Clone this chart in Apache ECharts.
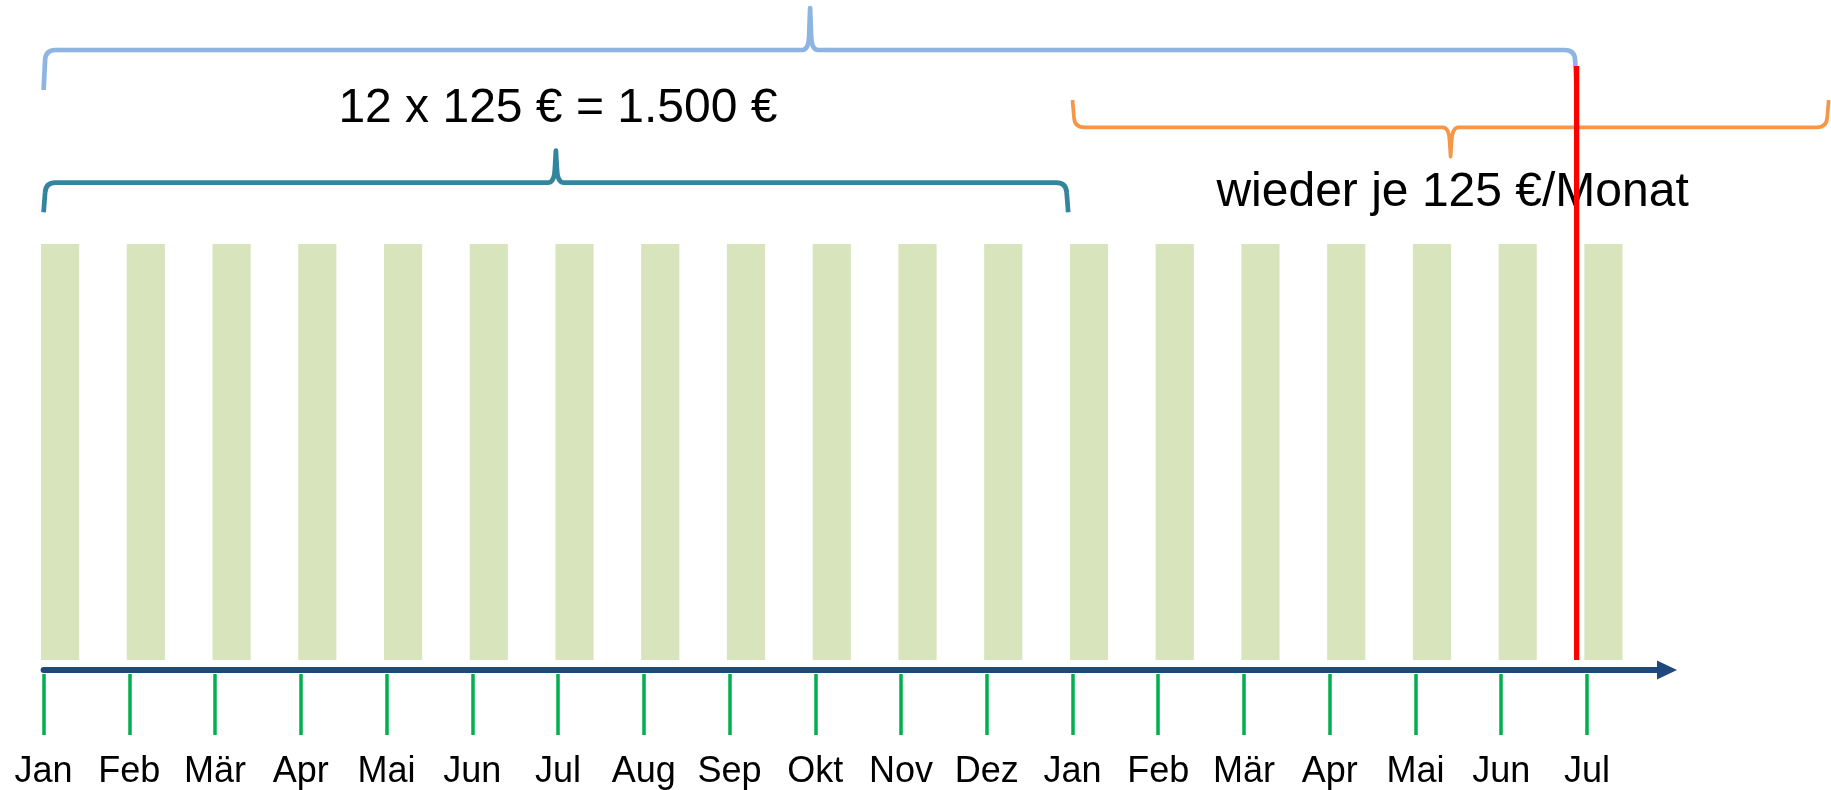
<!DOCTYPE html>
<html>
<head>
<meta charset="utf-8">
<title>Beiträge</title>
<script src="https://cdn.jsdelivr.net/npm/echarts@6.0.0/dist/echarts.min.js"></script>
<style>
    html, body { margin: 0; padding: 0; background: #fff; }
    #main { width: 1831px; height: 790px; }
</style>
</head>
<body>
<div id="main"></div>
<script>
    // Monate auf der Zeitachse
    const monate = ['Jan', 'Feb', 'Mär', 'Apr', 'Mai', 'Jun', 'Jul', 'Aug', 'Sep', 'Okt', 'Nov', 'Dez',
        'Jan', 'Feb', 'Mär', 'Apr', 'Mai', 'Jun', 'Jul'];
    // Beitrag je Monat in €
    const beitraege = [125, 125, 125, 125, 125, 125, 125, 125, 125, 125, 125, 125,
        125, 125, 125, 125, 125, 125, 125];
    // Stichtag (rote Linie), in Monaten ab Start
    const stichtag = 17.88;
    // Klammern: von / bis (in Monaten)
    const klammerVon = [0, 0, 12];
    const klammerBis = [17.88, 11.95, 20.82];
    const klammerTexte = ['', '12 x 125 € = 1.500 €', 'wieder je 125 €/Monat'];

    const schrift = '"Liberation Sans", Arial, sans-serif';
    const xMax = 18.934;

    // aussehen der drei klammern
    const klammerStil = [
        {y: 50, ende: 40, spitze: 42, dir: -1, color: '#8DB4E2', width: 4.7, textY: 0},
        {y: 182.7, ende: 29.5, spitze: 32, dir: -1, color: '#31859C', width: 4.7, textY: 108.5},
        {y: 127.3, ende: 27.3, spitze: 29.4, dir: 1, color: '#F79646', width: 3.7, textY: 193}
    ];

    function klammerPfad(x0, x1, hy, ende, spitze, dir) {
        const e = -dir;
        const xm = (x0 + x1) / 2;
        const r = 10;
        return 'M' + x0 + ',' + (hy + e * ende) +
            ' L' + (x0 + 1.5) + ',' + (hy + e * r) +
            ' Q' + (x0 + 2) + ',' + hy + ' ' + (x0 + r + 2) + ',' + hy +
            ' L' + (xm - 8) + ',' + hy +
            ' Q' + (xm - 1.5) + ',' + hy + ' ' + (xm - 1) + ',' + (hy + dir * 14) +
            ' L' + xm + ',' + (hy + dir * spitze) +
            ' L' + (xm + 1) + ',' + (hy + dir * 14) +
            ' Q' + (xm + 1.5) + ',' + hy + ' ' + (xm + 8) + ',' + hy +
            ' L' + (x1 - r - 2) + ',' + hy +
            ' Q' + (x1 - 2) + ',' + hy + ' ' + (x1 - 1.5) + ',' + (hy + e * r) +
            ' L' + x1 + ',' + (hy + e * ende);
    }

    const chart = echarts.init(document.getElementById('main'));
    const option = {
        backgroundColor: '#fff',
        animation: false,
        grid: {left: 43.6, right: 164, top: 244, bottom: 130},
        xAxis: [
            {
                type: 'value',
                min: 0,
                max: xMax,
                position: 'bottom',
                offset: 10,
                axisLine: {
                    show: true,
                    onZero: false,
                    symbol: ['none', 'triangle'],
                    symbolSize: [19, 20],
                    lineStyle: {color: '#1F497D', width: 6}
                },
                axisTick: {show: false},
                axisLabel: {show: false},
                splitLine: {show: false}
            },
            {
                type: 'value',
                min: 0,
                max: xMax,
                position: 'bottom',
                offset: 14,
                axisLine: {show: false, onZero: false},
                axisTick: {
                    show: true,
                    customValues: monate.map((m, i) => i),
                    length: 61,
                    lineStyle: {color: '#00B050', width: 3.5}
                },
                axisLabel: {
                    show: true,
                    customValues: monate.map((m, i) => i),
                    formatter: function (v) { return monate[v]; },
                    margin: 80,
                    color: '#000',
                    fontSize: 36,
                    fontFamily: schrift
                },
                splitLine: {show: false}
            }
        ],
        yAxis: {type: 'value', min: 0, max: 125, show: false},
        series: [
            {
                name: 'Beitrag',
                type: 'custom',
                xAxisIndex: 0,
                data: beitraege.map((v, i) => [i, v]),
                renderItem: function (params, api) {
                    const p0 = api.coord([api.value(0) - 0.03, api.value(1)]);
                    const p1 = api.coord([api.value(0) - 0.03 + 0.445, 0]);
                    return {
                        type: 'rect',
                        shape: {x: p0[0], y: p0[1], width: p1[0] - p0[0], height: p1[1] - p0[1]},
                        style: {fill: '#D7E4BC'}
                    };
                }
            },
            {
                name: 'Klammern',
                type: 'custom',
                xAxisIndex: 0,
                z: 3,
                data: klammerVon.map((v, i) => [v, klammerBis[i]]),
                renderItem: function (params, api) {
                    const s = klammerStil[params.dataIndex];
                    const x0 = api.coord([api.value(0), 0])[0];
                    const x1 = api.coord([api.value(1), 0])[0];
                    const kinder = [{
                        type: 'path',
                        shape: {pathData: klammerPfad(x0, x1, s.y, s.ende, s.spitze, s.dir)},
                        style: {fill: 'none', stroke: s.color, lineWidth: s.width, lineJoin: 'round', lineCap: 'butt'}
                    }];
                    const txt = klammerTexte[params.dataIndex];
                    if (txt) {
                        kinder.push({
                            type: 'text',
                            x: (x0 + x1) / 2 + 2,
                            y: s.textY,
                            style: {
                                text: txt,
                                fill: '#000',
                                font: '48px ' + schrift,
                                align: 'center',
                                verticalAlign: 'middle'
                            }
                        });
                    }
                    return {type: 'group', children: kinder};
                }
            },
            {
                name: 'Stichtag',
                type: 'custom',
                xAxisIndex: 0,
                z: 5,
                data: [[stichtag]],
                renderItem: function (params, api) {
                    const p = api.coord([api.value(0), 0]);
                    return {
                        type: 'line',
                        shape: {x1: p[0], y1: 66, x2: p[0], y2: p[1]},
                        style: {stroke: '#FF0000', lineWidth: 5.3}
                    };
                }
            }
        ]
    };
    chart.setOption(option);
</script>
</body>
</html>
